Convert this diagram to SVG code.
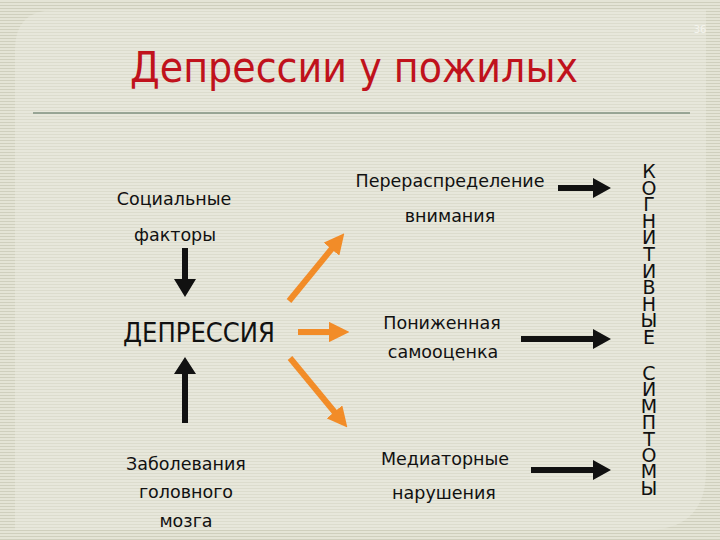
<svg xmlns="http://www.w3.org/2000/svg" width="720" height="540" viewBox="0 0 720 540">
<defs>
<pattern id="stripes" width="8" height="3" patternUnits="userSpaceOnUse">
<rect width="8" height="3" fill="#e4e4d6"/>
<rect y="2" width="8" height="1" fill="#cfcfbd"/>
</pattern>
<pattern id="pstripes" width="8" height="3" patternUnits="userSpaceOnUse">
<rect width="8" height="3" fill="#e7e7db"/>
<rect y="2" width="8" height="1" fill="#dcdccd"/>
</pattern>
<marker id="oh" viewBox="0 0 10 10" refX="2" refY="5" markerWidth="3.4" markerHeight="3.4" orient="auto" markerUnits="strokeWidth">
<path d="M0,0 L10,5 L0,10 Z" fill="#f28c28"/>
</marker>
</defs>
<style>
.t{font-family:"DejaVu Sans","Verdana",sans-serif;fill:#111;font-size:17.5px;text-anchor:middle}
.o{stroke:#f28c28;stroke-width:6;fill:none;marker-end:url(#oh)}
.b{fill:#111}
.v{font-family:"DejaVu Sans","Verdana",sans-serif;fill:#111;font-size:19px;text-anchor:middle}
</style>
<rect width="720" height="540" fill="url(#stripes)"/>
<path d="M55,10 H706 V470 Q706,530 646,530 H15 V50 Q15,10 55,10 Z" fill="url(#pstripes)"/>
<text x="700" y="33" font-family="DejaVu Sans, sans-serif" font-size="10" fill="#f4f4ee" text-anchor="middle">36</text>
<text id="title" x="130" y="82" font-family="DejaVu Sans, Verdana, sans-serif" font-size="42" fill="#c0121c" textLength="448" lengthAdjust="spacingAndGlyphs">Депрессии у пожилых</text>
<line x1="33" y1="113" x2="690" y2="113" stroke="#7f917f" stroke-width="1.5"/>

<g id="social"><text class="t" x="174" y="205">Социальные</text><text class="t" x="175" y="241">факторы</text></g>
<g id="depression"><text x="199" y="342" font-family="DejaVu Sans, Verdana, sans-serif" font-size="26" fill="#111" text-anchor="middle" textLength="152" lengthAdjust="spacingAndGlyphs">ДЕПРЕССИЯ</text></g>
<g id="brain"><text class="t" x="186" y="470">Заболевания</text><text class="t" x="186" y="498">головного</text><text class="t" x="186" y="527">мозга</text></g>
<g id="attention"><text class="t" x="450" y="187">Перераспределение</text><text class="t" x="450" y="222">внимания</text></g>
<g id="selfesteem"><text class="t" x="442" y="329">Пониженная</text><text class="t" x="443" y="358">самооценка</text></g>
<g id="mediator"><text class="t" x="445" y="465">Медиаторные</text><text class="t" x="444" y="499">нарушения</text></g>
<g id="cognitive">
<text class="v" x="649" y="178">К</text><text class="v" x="649" y="194.6">О</text><text class="v" x="649" y="211.2">Г</text><text class="v" x="649" y="227.8">Н</text><text class="v" x="649" y="244.4">И</text><text class="v" x="649" y="261">Т</text><text class="v" x="649" y="277.6">И</text><text class="v" x="649" y="294.2">В</text><text class="v" x="649" y="310.8">Н</text><text class="v" x="649" y="327.4">Ы</text><text class="v" x="649" y="344">Е</text>
<text class="v" x="649" y="380">С</text><text class="v" x="649" y="396.4">И</text><text class="v" x="649" y="412.8">М</text><text class="v" x="649" y="429.2">П</text><text class="v" x="649" y="445.6">Т</text><text class="v" x="649" y="462">О</text><text class="v" x="649" y="478.4">М</text><text class="v" x="649" y="494.8">Ы</text>
</g>
<g id="connectors">
<path class="b" d="M182,248 H188 V279 H196 L185,297 L174,279 H182 Z"/>
<path class="b" d="M182,423 H188 V374 H196 L185,357 L174,374 H182 Z"/>
<line class="o" x1="289" y1="301" x2="334" y2="246"/>
<line class="o" x1="298" y1="332" x2="333" y2="332"/>
<line class="o" x1="290" y1="358" x2="337" y2="415"/>
<path class="b" d="M558,185 H593 V178 L611,188 L593,198 V191 H558 Z"/>
<path class="b" d="M521,336 H593 V329 L611,339 L593,349 V342 H521 Z"/>
<path class="b" d="M531,467 H593 V460 L611,470 L593,480 V473 H531 Z"/>
</g>
</svg>
